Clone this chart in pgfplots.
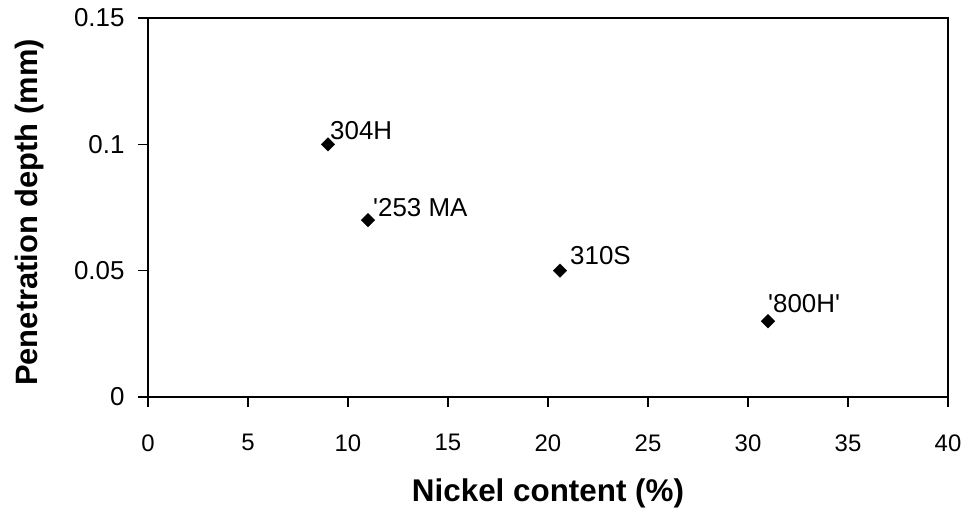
\documentclass[border=0pt]{standalone}
\usepackage{fontspec}
\setmainfont{Liberation Sans}
\usepackage{pgfplots}
\pgfplotsset{compat=1.18}
\begin{document}
\begin{tikzpicture}
\begin{axis}[
  scale only axis,
  width=800bp, height=379bp,
  xmin=0, xmax=40, ymin=0, ymax=0.15,
  xtick={0,5,...,40},
  ytick={0,0.05,0.1,0.15},
  yticklabels={0,0.05,0.1,0.15},
  xtick pos=bottom, ytick pos=left,
  tick align=outside,
  major tick length=10bp,
  axis line style={line width=1.5bp},
  every tick/.style={black, line width=1.5bp},
  /pgf/number format/assume math mode=true,
  xticklabel style={font=\fontsize{24}{26}\selectfont, yshift=-24bp},
  yticklabel style={font=\fontsize{26}{28}\selectfont, xshift=-10bp},
  xlabel={Nickel content (\%)},
  ylabel={Penetration depth (mm)},
  xlabel style={font=\bfseries\fontsize{31.5}{33}\selectfont, at={(rel axis cs:0.5,0)}, anchor=center, yshift=-96bp},
  ylabel style={font=\bfseries\fontsize{31}{33}\selectfont, at={(rel axis cs:0,0.5)}, anchor=center, yshift=118bp, xshift=-5bp},
  clip=false,
]
\addplot[only marks, mark=square*, mark size=4.8bp, mark options={rotate=45}, black] coordinates {
  (9,0.1) (11,0.07) (20.6,0.05) (31,0.03)
};
\coordinate (sw) at (rel axis cs:0,0);
\node[anchor=west, font=\fontsize{26}{28}\selectfont, inner sep=0pt] at (axis cs:9,0.1) [xshift=2bp, yshift=14bp] {304H};
\node[anchor=west, font=\fontsize{26}{28}\selectfont, inner sep=0pt] at (axis cs:11,0.07) [xshift=5bp, yshift=13bp] {\textquotesingle 253 MA};
\node[anchor=west, font=\fontsize{26}{28}\selectfont, inner sep=0pt] at (axis cs:20.6,0.05) [xshift=10bp, yshift=15bp] {310S};
\node[anchor=west, font=\fontsize{26}{28}\selectfont, inner sep=0pt] at (axis cs:31,0.03) [xshift=0bp, yshift=18bp] {\textquotesingle 800H\textquotesingle};
\end{axis}
\pgfresetboundingbox
\path (sw) ++(-148bp,-127bp) rectangle ++(967bp,524bp);
\end{tikzpicture}
\end{document}
